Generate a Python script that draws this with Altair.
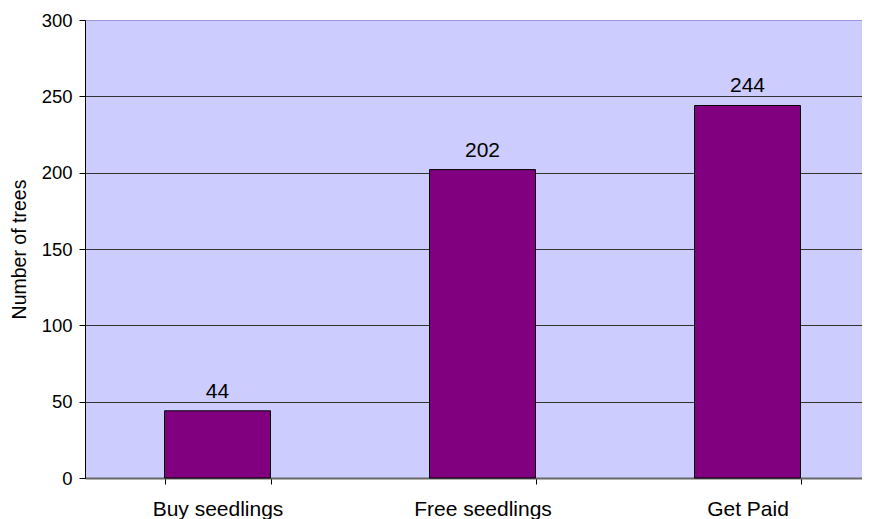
import altair as alt
import pandas as pd

categories = ["Buy seedlings", "Free seedlings", "Get Paid"]
values = [44, 202, 244]

df = pd.DataFrame({"cat": categories, "val": values})

FONT = "Liberation Sans"

x = alt.X("cat:N", sort=categories, title=None,
          scale=alt.Scale(paddingInner=0.6, paddingOuter=0.3, range=[0, 795]),
          axis=alt.Axis(labelAngle=0, labelFont=FONT, labelFontSize=21, labelColor="black",
                        labelPadding=14, tickBand="extent", tickSize=6, tickColor="black",
                        domainColor="#666666", domainWidth=2, grid=False))
y = alt.Y("val:Q", title="Number of trees",
          scale=alt.Scale(domain=[0, 300], nice=False),
          axis=alt.Axis(values=[0, 50, 100, 150, 200, 250, 300], labelFont=FONT, labelFontSize=18.5,
                        labelColor="black", labelPadding=7, tickSize=6, tickColor="black",
                        titleFont=FONT, titleFontSize=19.5, titleFontWeight="normal",
                        titleColor="black", titlePadding=12,
                        domainColor="black",
                        gridColor=alt.condition("datum.value == 300", alt.value("#9999DD"), alt.value("#333333"))))

bars = alt.Chart(df).mark_bar(color="#800080", stroke="black", strokeWidth=1).encode(x=x, y=y)
text = alt.Chart(df).mark_text(dy=-13, baseline="alphabetic", font=FONT, fontSize=21,
                               color="black").encode(
    x=alt.X("cat:N", sort=categories), y="val:Q", text="val:Q")

chart = (bars + text).properties(
    width=777, height=458,
    view=alt.ViewBackground(fill="#CCCCFF", strokeWidth=0),
    autosize=alt.AutoSizeParams(type="none"),
    padding={"left": 77, "top": 12, "right": 0, "bottom": 41},
).configure_view(fill="#CCCCFF", strokeWidth=0).configure(background="white")

chart.save("out.html", embed_options={"renderer": "svg", "actions": False})
